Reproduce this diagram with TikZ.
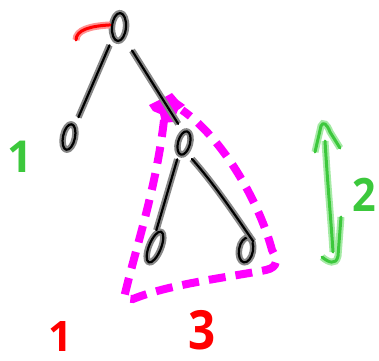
\documentclass[tikz,border=0pt]{standalone}
\usepackage{fontspec}
\setmainfont{Open Sans}
\usetikzlibrary{shapes.geometric}
\definecolor{gcore}{RGB}{60,200,60}
\definecolor{ghalo}{RGB}{165,234,165}
\definecolor{rcore}{RGB}{255,0,0}
\definecolor{rhalo}{RGB}{255,145,145}
\definecolor{khalo}{RGB}{135,135,135}
\definecolor{mag}{RGB}{255,0,255}
\begin{document}
\begin{tikzpicture}[x=1pt,y=-1pt,
  kink/.style={draw=black,line width=2.2pt,line cap=round,line join=round,preaction={draw=khalo,line width=6.5pt}},
  gink/.style={draw=gcore,line width=3pt,line cap=round,line join=round,preaction={draw=ghalo,line width=7pt}},
  rink/.style={draw=rcore,line width=3pt,line cap=round,line join=round,preaction={draw=rhalo,line width=7pt}},
  tnode/.style={ellipse,inner sep=0pt,kink},
  magdash/.style={draw=mag,line width=8pt,dash pattern=on 17pt off 10pt},
  digit/.style={inner sep=0pt,anchor=base,text depth=0pt}
]
\useasboundingbox (0,0) rectangle (379,360);

% tree nodes
\node[tnode,minimum width=14pt,minimum height=28pt,rotate=-5] (root) at (119,27) {};
\node[tnode,minimum width=12pt,minimum height=26pt,rotate=-12] (lc) at (69,137) {};
\node[tnode,minimum width=12pt,minimum height=24pt,rotate=-15] (rc) at (184,143) {};
\node[tnode,minimum width=12pt,minimum height=33pt,rotate=-22] (lg) at (155,247) {};
\node[tnode,minimum width=14pt,minimum height=25pt,rotate=-10] (rg) at (246,250) {};

% magenta dashed triangle
\fill[mag] (149,105) -- (163,98) -- (172,93) -- (178,100) -- (185,105) -- (178,110)
  -- (173,122) -- (162,123) -- (160,114) -- (153,111) -- cycle;
\draw[magdash] (164,120) .. controls (156,190) and (135,250) .. (124,298)
  -- (133,299) .. controls (170,284) and (230,277) .. (266,270)
  .. controls (279,267) and (277,259) .. (272,250)
  .. controls (260,205) and (225,140) .. (182,110);

% tree edges
\draw[kink,shorten <=8pt,shorten >=9pt] (root.-115) -- (lc.75);
\draw[kink,shorten <=15pt,shorten >=9pt] (root.-60) -- (rc.110);
\draw[kink,shorten <=5pt,shorten >=3pt] (rc.-100) -- (lg.110);
\draw[kink,shorten <=8pt,shorten >=0pt] (rc.-60) .. controls (215,185) and (235,215) .. (rg.60);

% red stroke at the root
\coordinate (rs) at (76,40);
\draw[rink,shorten >=1pt] (rs) .. controls (76,30) and (90,26) .. (root.170);

% green double arrow
\coordinate (ga) at (325,141);
\coordinate (gb) at (333,252);
\coordinate (gl) at (315,152);
\coordinate (gt) at (321,126);
\coordinate (gr) at (340,148);
\coordinate (hk) at (322,257);
\coordinate (hu) at (341,217);
\draw[gink] (ga) .. controls (328,190) and (331,220) .. (gb);
\draw[gink] (gl) -- (gt) .. controls (323,121) and (327,124) .. (330,132) -- (gr);
\draw[gink] (hk) .. controls (328,262) and (336,266) .. (338,256) -- (hu);

% labels
\node[digit,text=gcore,font=\bfseries\fontsize{44}{44}\selectfont] (g1) at (20,172) {1};
\node[digit,text=gcore,font=\bfseries\fontsize{46}{46}\selectfont,xscale=0.9] (g2) at (364,211) {2};
\node[digit,text=rcore,font=\bfseries\fontsize{42}{42}\selectfont] (r1) at (60,351) {1};
\node[digit,text=rcore,font=\bfseries\fontsize{54}{54}\selectfont,xscale=0.88] (r3) at (202,349) {3};
\end{tikzpicture}
\end{document}
